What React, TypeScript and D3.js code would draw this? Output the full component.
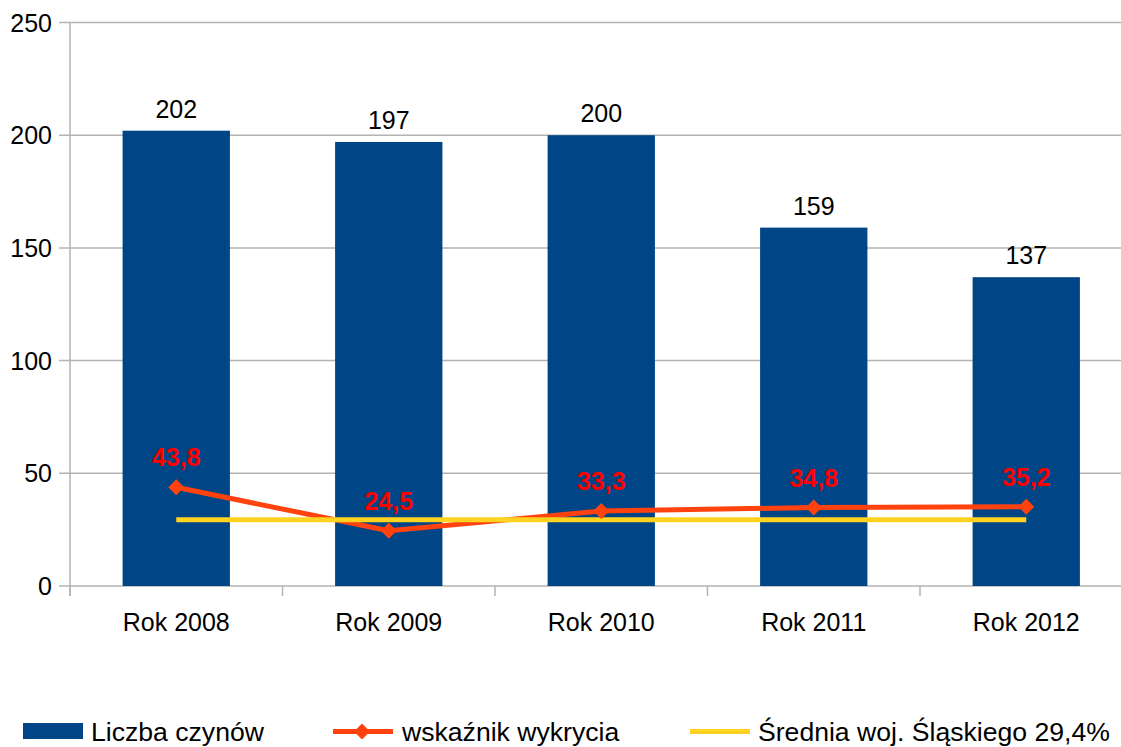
import React from "react";
import * as d3 from "d3";

const categories = ["Rok 2008", "Rok 2009", "Rok 2010", "Rok 2011", "Rok 2012"];
const liczbaCzynow = [202, 197, 200, 159, 137];
const wskaznik = [43.8, 24.5, 33.3, 34.8, 35.2];
const wskaznikLabels = ["43,8", "24,5", "33,3", "34,8", "35,2"];
const sredniaValue = 29.4;
const yTicks = [0, 50, 100, 150, 200, 250];
const legendLabels = ["Liczba czynów", "wskaźnik wykrycia", "Średnia woj. Śląskiego 29,4%"];

const W = 1121;
const H = 747;
const FONT = "'Liberation Sans', Arial, sans-serif";
const BLUE = "#004586";
const RED = "#ff420e";
const YELLOW = "#ffd320";
const GRID = "#b3b3b3";

export default function App() {
  const x = d3.scaleBand<string>().domain(categories).range([70, 1132.5]).padding(0);
  const y = d3.scaleLinear().domain([0, 250]).range([586, 22.5]);
  const bw = x.bandwidth() * 0.505;
  const cx = (c: string) => (x(c) as number) + x.bandwidth() / 2;

  const line = d3
    .line<number>()
    .x((_, i) => cx(categories[i]))
    .y((d) => y(d));

  const diamond = (px: number, py: number, r: number) =>
    `M${px},${py - r}L${px + r},${py}L${px},${py + r}L${px - r},${py}Z`;

  const boundaries = categories.map((c) => x(c) as number).concat([x.range()[1]]);

  return (
    <svg
      width={W}
      height={H}
      style={{ position: "absolute", left: 0, top: 0, background: "#fff" }}
      fontFamily={FONT}
    >
      {/* gridlines */}
      {yTicks.map((t) => (
        <line key={t} x1={59} x2={W} y1={y(t)} y2={y(t)} stroke={GRID} strokeWidth={1.5} />
      ))}
      {/* y axis */}
      <line x1={70} x2={70} y1={y(250)} y2={596} stroke={GRID} strokeWidth={1.5} />
      {boundaries.map((b, i) => (
        <line key={i} x1={b} x2={b} y1={586} y2={596} stroke={GRID} strokeWidth={1.5} />
      ))}
      {yTicks.map((t) => (
        <text key={t} x={52} y={y(t)} dy="0.36em" textAnchor="end" fontSize={25} fill="#000">
          {t}
        </text>
      ))}
      {/* bars */}
      {categories.map((c, i) => (
        <rect
          key={c}
          x={cx(c) - bw / 2}
          y={y(liczbaCzynow[i])}
          width={bw}
          height={y(0) - y(liczbaCzynow[i])}
          fill={BLUE}
        />
      ))}
      {categories.map((c, i) => (
        <text key={c} x={cx(c)} y={y(liczbaCzynow[i]) - 13} textAnchor="middle" fontSize={25} fill="#000">
          {liczbaCzynow[i]}
        </text>
      ))}
      {/* x labels */}
      {categories.map((c) => (
        <text key={c} x={cx(c)} y={631} textAnchor="middle" fontSize={25} fill="#000">
          {c}
        </text>
      ))}
      {/* red line */}
      <path d={line(wskaznik) || ""} fill="none" stroke={RED} strokeWidth={5} strokeLinejoin="round" />
      {/* yellow avg line */}
      <line
        x1={cx(categories[0])}
        x2={cx(categories[categories.length - 1])}
        y1={y(sredniaValue)}
        y2={y(sredniaValue)}
        stroke={YELLOW}
        strokeWidth={5}
      />
      {categories.map((c, i) => (
        <path key={c} d={diamond(cx(c), y(wskaznik[i]), 8)} fill={RED} />
      ))}
      {categories.map((c, i) => (
        <text
          key={c}
          x={cx(c)}
          y={y(wskaznik[i]) - 21}
          textAnchor="middle"
          fontSize={25}
          fontWeight="bold"
          fill="#ff0000"
        >
          {wskaznikLabels[i]}
        </text>
      ))}
      {/* legend */}
      <rect x={23} y={723} width={60} height={16} fill={BLUE} />
      <text x={91} y={741} fontSize={26.6} fill="#000">{legendLabels[0]}</text>
      <line x1={333} x2={393} y1={731.5} y2={731.5} stroke={RED} strokeWidth={5} />
      <path d={diamond(362, 731.5, 8)} fill={RED} />
      <text x={402} y={741} fontSize={26.6} fill="#000">{legendLabels[1]}</text>
      <line x1={690} x2={750} y1={731.5} y2={731.5} stroke={YELLOW} strokeWidth={5} />
      <text x={758} y={741} fontSize={26.6} fill="#000">{legendLabels[2]}</text>
    </svg>
  );
}
